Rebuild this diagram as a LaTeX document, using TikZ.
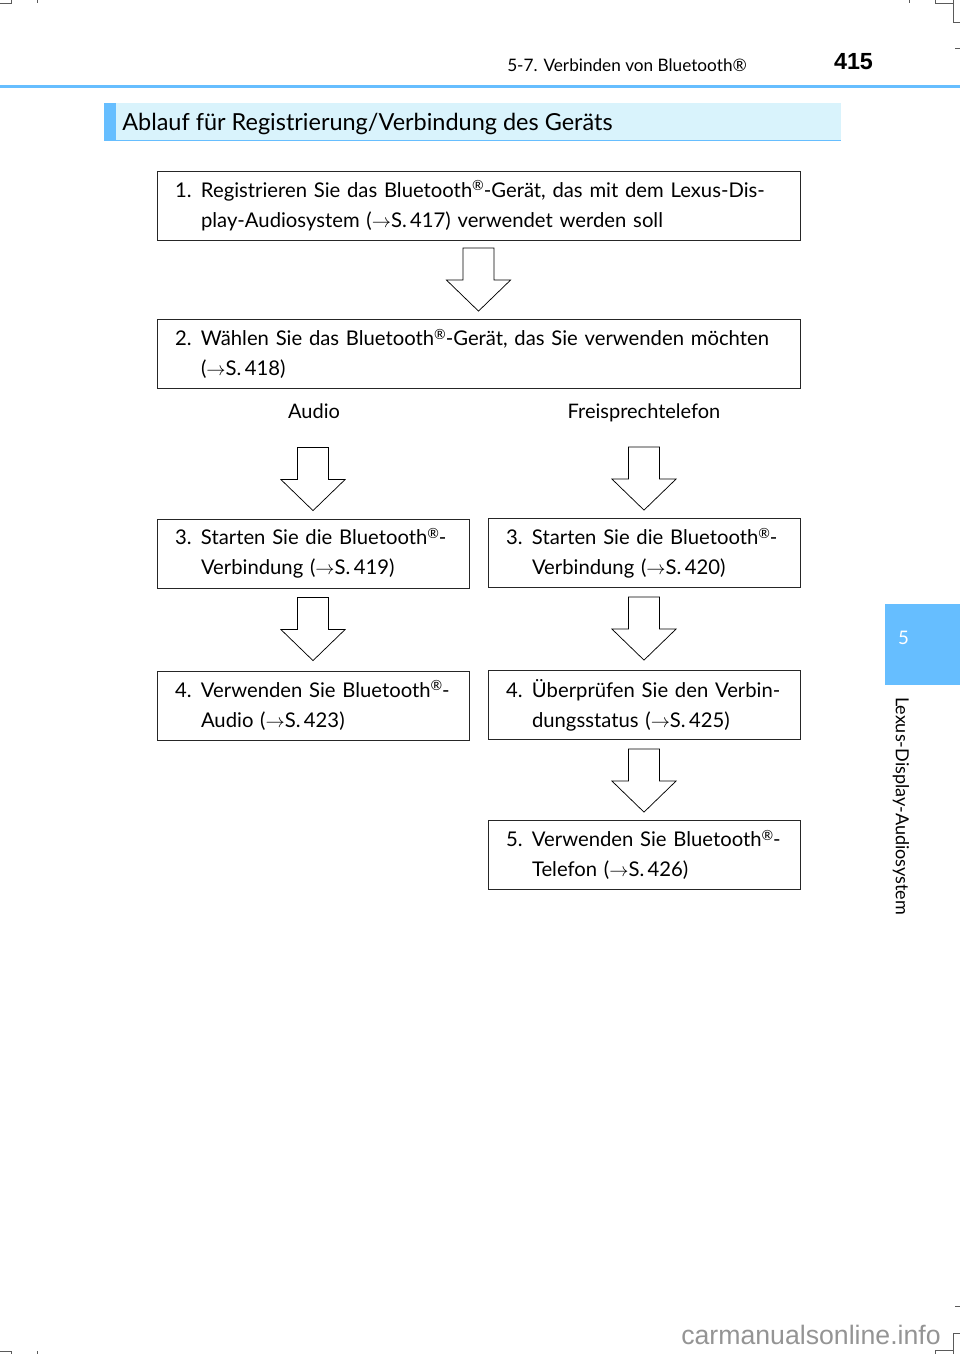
\documentclass[tikz,border=0pt]{standalone}
\usepackage{fontspec}
\setmainfont{Lato}
\newfontfamily\arialfont{Liberation Sans}
\usetikzlibrary{calc}

\definecolor{tabblue}{RGB}{102,190,255}
\definecolor{barcyan}{RGB}{217,243,252}
\definecolor{markgray}{RGB}{90,90,90}

\newlength\numw
\setlength\numw{19.5pt}
\def\pxu{0.75pt}
\newcommand\regmark{\raisebox{0.62ex}{\fontsize{10.5}{10.5}\selectfont ®}}

\tikzset{
  stepbox/.style={draw=black!85, line width=0.6pt, inner xsep=18*\pxu, inner ysep=0pt,
    align=left, font=\fontsize{15.2}{22.5}\selectfont},
  fullbox/.style={stepbox, minimum width=643*\pxu, text width=607*\pxu, minimum height=69*\pxu},
  halfbox/.style={stepbox, minimum width=312*\pxu, text width=276*\pxu, minimum height=69*\pxu},
  blockarrow/.pic={
    \draw [black, line width=0.55pt, fill=white] (-15.5,-31) -- (15.5,-31) -- (15.5,1)
      -- (32,1) -- (0,32) -- (-32,1) -- (-15.5,1) -- cycle;
  },
  cropmark/.style={markgray, line width=0.5pt}
}

\begin{document}
\begin{tikzpicture}[x=0.75pt, y=-0.75pt]
    \tikzstyle{every node}+=[inner sep=0pt]
    \useasboundingbox (0,0) rectangle (960,1354);

    % page head
    \draw [tabblue, line width=2.2pt] (0,86.5) -- (960,86.5);
    \node (chap) [anchor=base west, font=\fontsize{12.9}{15}\selectfont] at (507,71) {5-7. Verbinden von Bluetooth®};
    \node (pageno) [anchor=base, font=\arialfont\bfseries\fontsize{17.5}{20}\selectfont] at (853.5,69) {415};

    % section bar
    \fill [barcyan] (104,103) rectangle (841,141);
    \fill [tabblue] (104,103) rectangle (116,141);
    \draw [tabblue, line width=1.4pt] (104,140.5) -- (841,140.5);
    \node (title) [anchor=base west, font=\fontsize{17.6}{20}\selectfont] at (122,130) {Ablauf für Registrierung/Verbindung des Geräts};

    % side tab
    \fill [tabblue] (885,604) rectangle (960,685);
    \node (tabno) [text=white, font=\fontsize{14}{16}\selectfont] at (903.5,638) {5};
    \node (tabtext) [rotate=-90, font=\fontsize{13.5}{16}\selectfont] at (901,806) {Lexus-Display-Audiosystem};

    % flow
    \node (b1) [fullbox] at (478.5,205.5) {\makebox[\numw][l]{1.}Registrieren Sie das Bluetooth\regmark-Gerät, das mit dem Lexus-Dis-\\\hspace*{\numw}play-Audiosystem ($\rightarrow$S.\,417) verwendet werden soll};
    \node (b2) [fullbox] at (478.5,354) {\makebox[\numw][l]{2.}Wählen Sie das Bluetooth\regmark-Gerät, das Sie verwenden möchten\\\hspace*{\numw}($\rightarrow$S.\,418)};
    \node (audio) [anchor=base, font=\fontsize{15}{18}\selectfont] at (314,418) {Audio};
    \node (hands) [anchor=base, font=\fontsize{15}{18}\selectfont] at (644,418) {Freisprechtelefon};
    \node (b3a) [halfbox] at (313,553.5) {\makebox[\numw][l]{3.}Starten Sie die Bluetooth\regmark-\\\hspace*{\numw}Verbindung ($\rightarrow$S.\,419)};
    \node (b3f) [halfbox] at (644,553) {\makebox[\numw][l]{3.}Starten Sie die Bluetooth\regmark-\\\hspace*{\numw}Verbindung ($\rightarrow$S.\,420)};
    \node (b4a) [halfbox] at (313,705.5) {\makebox[\numw][l]{4.}Verwenden Sie Bluetooth\regmark-\\\hspace*{\numw}Audio ($\rightarrow$S.\,423)};
    \node (b4f) [halfbox] at (644,705) {\makebox[\numw][l]{4.}Überprüfen Sie den Verbin-\\\hspace*{\numw}dungsstatus ($\rightarrow$S.\,425)};
    \node (b5f) [halfbox] at (644,855) {\makebox[\numw][l]{5.}Verwenden Sie Bluetooth\regmark-\\\hspace*{\numw}Telefon ($\rightarrow$S.\,426)};

    \pic at ($(b2.north)+(0,-40)$) {blockarrow};
    \pic at ($(b3a.north)+(0,-40)$) {blockarrow};
    \pic at ($(b3f.north)+(0,-40)$) {blockarrow};
    \pic at ($(b4a.north)+(0,-42)$) {blockarrow};
    \pic at ($(b4f.north)+(0,-42)$) {blockarrow};
    \pic at ($(b5f.north)+(0,-40)$) {blockarrow};

    % watermark
    \node (wm) [anchor=base east, text=black!42, font=\arialfont\fontsize{20}{24}\selectfont] at (941,1344) {carmanualsonline.info};

    % crop marks
    \draw [cropmark] (0,3) -- (11,3) -- (11,0);
    \draw [cropmark] (37,0) -- (37,3);
    \draw [cropmark] (909,0) -- (909,3);
    \draw [cropmark] (935,0) -- (935,3) -- (953,3) -- (953,0);
    \draw [cropmark] (953,3) -- (953,22) -- (960,22);
    \draw [cropmark] (955,48) -- (960,48);
    \draw [cropmark] (955,1306) -- (960,1306);
    \draw [cropmark] (960,1333) -- (953,1333) -- (953,1354);
    \draw [cropmark] (935,1354) -- (935,1350) -- (953,1350);
    \draw [cropmark] (0,1351) -- (11,1351) -- (11,1354);
    \draw [cropmark] (37,1351) -- (37,1354);
\end{tikzpicture}
\end{document}
